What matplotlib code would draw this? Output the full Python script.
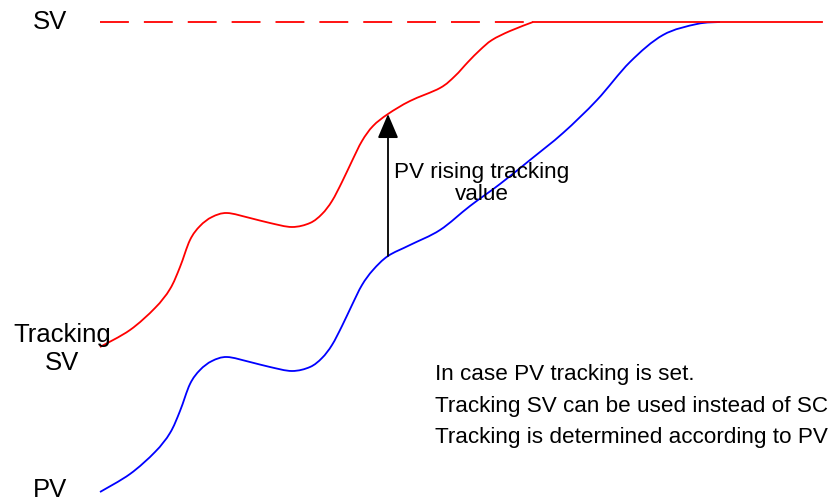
import matplotlib.pyplot as plt
from matplotlib.path import Path
from matplotlib.patches import PathPatch

plt.rcParams['font.family'] = ['Liberation Sans', 'DejaVu Sans']

# process value (blue) and tracking set value (red), time vs. value
pv_t = [100, 130, 155, 170, 180, 190, 200, 212, 227, 250, 270, 292, 310, 322,
        332, 342, 352, 362, 373, 388, 410, 440, 470, 500, 530, 563, 597, 630,
        663, 697, 720]
pv_v = [9, 27, 49, 68, 90, 117, 131, 140, 144, 139, 134, 130, 134, 143,
        156, 175, 196, 216, 231, 245, 256, 271, 295, 317, 341, 368, 401, 439,
        466, 477, 479]

tsv_t = [100, 130, 155, 170, 180, 190, 200, 212, 227, 250, 270, 292, 310, 322,
         332, 342, 352, 362, 373, 388, 410, 440, 455, 468, 480, 492, 510, 533]
tsv_v = [154, 171, 193, 212, 234, 261, 275, 284, 288, 283, 278, 274, 278, 287,
         300, 319, 340, 360, 375, 387, 400, 413, 425, 439, 451, 461, 470, 479]

sv = 479
sv_reached = 533
t_start, t_end = 100, 822
arrow_t = 388


def smooth_path(xs, ys):
    # Catmull-Rom through the points, written as cubic Bezier segments
    pts = list(zip(xs, ys))
    verts = [pts[0]]
    codes = [Path.MOVETO]
    n = len(pts)
    for i in range(n - 1):
        p0 = pts[max(i - 1, 0)]
        p1 = pts[i]
        p2 = pts[i + 1]
        p3 = pts[min(i + 2, n - 1)]
        c1 = (p1[0] + (p2[0] - p0[0]) / 6, p1[1] + (p2[1] - p0[1]) / 6)
        c2 = (p2[0] - (p3[0] - p1[0]) / 6, p2[1] - (p3[1] - p1[1]) / 6)
        verts += [c1, c2, p2]
        codes += [Path.CURVE4] * 3
    return Path(verts, codes)


fig = plt.figure(figsize=(8.37, 5.01), dpi=100)
ax = fig.add_axes([0, 0, 1, 1])
ax.set_xlim(0, 837)
ax.set_ylim(0, 501)
ax.axis('off')

# SV line: dashed until tracking SV catches up, solid afterwards
ax.plot([t_start, sv_reached], [sv, sv], color='#ff0000', lw=1.3,
        dashes=(16, 8.3), solid_capstyle='butt', dash_capstyle='butt')
ax.plot([sv_reached, t_end], [sv, sv], color='#ff0000', lw=1.3)

ax.add_patch(PathPatch(smooth_path(tsv_t, tsv_v), fill=False,
                       edgecolor='#ff0000', lw=1.3))
ax.add_patch(PathPatch(smooth_path(pv_t, pv_v), fill=False,
                       edgecolor='#0000ff', lw=1.3))

# tracking offset arrow from PV up to tracking SV
pv_at_arrow = pv_v[pv_t.index(arrow_t)]
tsv_at_arrow = tsv_v[tsv_t.index(arrow_t)]
ax.annotate('', xy=(arrow_t, tsv_at_arrow), xytext=(arrow_t, pv_at_arrow),
            arrowprops=dict(arrowstyle='-|>,head_length=0.75,head_width=0.32',
                            color='black', lw=1.3, mutation_scale=20,
                            shrinkA=0, shrinkB=0))

ax.text(50, sv, 'SV', fontsize=18.5, ha='center', va='center')
ax.text(62, 131, 'Tracking\nSV', fontsize=18.5, ha='center', va='baseline',
        linespacing=1.2)
ax.text(50, 4, 'PV', fontsize=18.5, ha='center', va='baseline')
ax.text(482, 301, 'PV rising tracking\nvalue', fontsize=16.2, ha='center',
        va='baseline', linespacing=1.05)
ax.text(435, 58, 'In case PV tracking is set.\n'
        'Tracking SV can be used instead of SC\n'
        'Tracking is determined according to PV',
        fontsize=16.2, ha='left', va='baseline', linespacing=1.65)

fig.savefig('out.png', dpi=100)
